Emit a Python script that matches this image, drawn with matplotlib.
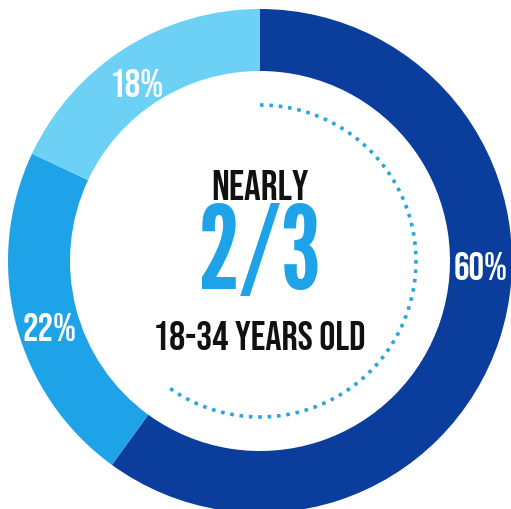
import matplotlib.pyplot as plt
import numpy as np

# Data
shares = [60, 22, 18]
labels = ['60%', '22%', '18%']
colors = ['#0b3d9c', '#1fa3e8', '#6dd1f5']
headline_top = 'NEARLY'
headline_big = '2/3'
headline_bottom = '18-34 YEARS OLD'

family = ['Bebas Neue', 'DejaVu Sans']
big_family = ['League Gothic', 'Bebas Neue', 'DejaVu Sans']

fig = plt.figure(figsize=(5.11, 5.10), dpi=100)
ax = fig.add_axes([0, 0, 1, 1])

cx, cy, R, ring = 260, 248, 252, 62
wedges, _ = ax.pie(shares, colors=colors, startangle=90, counterclock=False,
                   radius=R, center=(cx, cy),
                   wedgeprops=dict(width=ring, edgecolor='none'))

# percentage labels in the ring
label_pos = [(481, 244), (49, 183), (137, 427)]
for (x, y), lab in zip(label_pos, labels):
    ax.text(x, y, lab, color='white', fontsize=28, family=family,
            ha='center', va='center')

# dotted arc spanning the 60% share
theta = np.radians(np.linspace(90, 90 - 360 * shares[0] / 100, 300))
ax.plot(cx + 156 * np.cos(theta), cy + 156 * np.sin(theta), color='#2aa6d8',
        linestyle=(0, (1, 1.6)), linewidth=2.6)

ax.text(cx, 325, headline_top, fontsize=30, family=family,
        ha='center', va='center', color='#111111')
ax.text(cx, 253, headline_big, fontsize=83, family=big_family,
        ha='center', va='center', color='#1ea3e8')
ax.text(cx - 1, 175, headline_bottom, fontsize=29, family=family,
        ha='center', va='center', color='#111111')

ax.set_xlim(0, 511)
ax.set_ylim(0, 510)
ax.set_aspect('equal')
ax.axis('off')
fig.savefig('out.png', dpi=100, facecolor='white')
